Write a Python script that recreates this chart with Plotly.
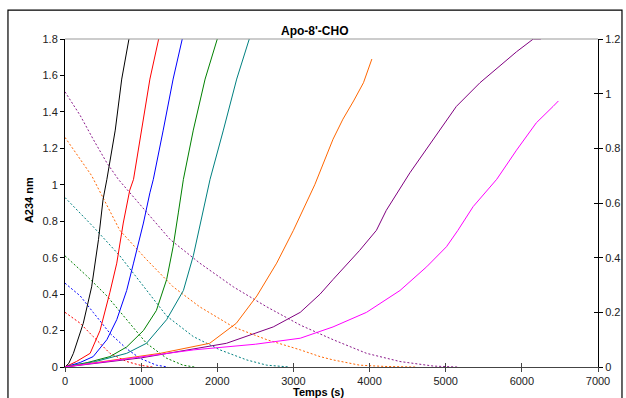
import plotly.graph_objects as go

# ---- data (time in s, absorbance) ----
black_t = [0, 50, 110, 240, 350, 440, 500, 550, 660, 745, 840]
black_v = [0, 0.02, 0.075, 0.24, 0.44, 0.70, 0.92, 1.03, 1.30, 1.58, 1.80]

red_t = [0, 150, 330, 460, 590, 680, 765, 850, 900, 1005, 1115, 1230]
red_v = [0, 0.03, 0.075, 0.20, 0.41, 0.57, 0.79, 0.97, 1.03, 1.30, 1.58, 1.80]

blue_t = [0, 200, 370, 550, 680, 810, 900, 1030, 1115, 1160, 1290, 1420, 1540]
blue_v = [0, 0.025, 0.057, 0.15, 0.26, 0.42, 0.57, 0.79, 0.956, 1.03, 1.30, 1.58, 1.80]

green_t = [0, 300, 590, 810, 1030, 1200, 1335, 1420, 1490, 1555, 1685, 1840, 2000]
green_v = [0, 0.025, 0.057, 0.11, 0.20, 0.31, 0.48, 0.66, 0.85, 1.03, 1.30, 1.58, 1.80]

teal_t = [0, 400, 810, 1070, 1335, 1555, 1685, 1815, 1905, 2080, 2255, 2420]
teal_v = [0, 0.03, 0.075, 0.13, 0.26, 0.42, 0.61, 0.85, 1.03, 1.30, 1.58, 1.80]

orange_t = [0, 600, 1250, 1900, 2250, 2520, 2780, 3000, 3280, 3520, 3650, 3790, 3920, 4030]
orange_v = [0, 0.035, 0.075, 0.13, 0.24, 0.39, 0.57, 0.75, 1.00, 1.25, 1.36, 1.46, 1.56, 1.69]

purple_t = [0, 1000, 2120, 2735, 3090, 3350, 3520, 3870, 4090, 4220, 4530, 4840, 5140, 5450, 5710, 5930, 6150, 6250]
purple_v = [0, 0.05, 0.13, 0.22, 0.30, 0.40, 0.48, 0.64, 0.75, 0.86, 1.066, 1.25, 1.43, 1.56, 1.65, 1.73, 1.80, 1.80]

magenta_t = [0, 1000, 1690, 2500, 3090, 3520, 3960, 4400, 4750, 5010, 5160, 5360, 5670, 5930, 6190, 6410, 6480]
magenta_v = [0, 0.055, 0.094, 0.125, 0.158, 0.22, 0.30, 0.42, 0.55, 0.66, 0.75, 0.88, 1.03, 1.19, 1.34, 1.43, 1.46]

red_d_t = [0, 200, 370, 590, 810, 985, 1150]
red_d_v = [0.30, 0.24, 0.167, 0.075, 0.03, 0.01, 0.0]

blue_d_t = [0, 200, 370, 590, 810, 985, 1200, 1350]
blue_d_v = [0.46, 0.39, 0.30, 0.185, 0.10, 0.048, 0.01, 0.0]

green_d_t = [0, 285, 550, 810, 1070, 1335, 1550, 1700]
green_d_v = [0.61, 0.50, 0.39, 0.26, 0.13, 0.048, 0.01, 0.0]

teal_d_t = [0, 370, 720, 1070, 1335, 1685, 2035, 2385, 2650, 2950]
teal_d_v = [0.93, 0.77, 0.61, 0.42, 0.28, 0.167, 0.094, 0.039, 0.01, 0.0]

orange_d_t = [0, 350, 720, 1070, 1420, 1770, 2210, 2650, 3090, 3350, 3520, 3870, 4200, 4600]
orange_d_v = [1.26, 1.05, 0.75, 0.59, 0.44, 0.33, 0.22, 0.15, 0.094, 0.057, 0.039, 0.01, 0.003, 0.0]

purple_d_t = [0, 200, 370, 550, 700, 1070, 1380, 1770, 2210, 2650, 3090, 3520, 3960, 4400, 4840, 5150]
purple_d_v = [1.51, 1.38, 1.25, 1.12, 1.03, 0.85, 0.70, 0.57, 0.44, 0.33, 0.23, 0.15, 0.075, 0.03, 0.005, 0.0]

solid = [
    (black_t, black_v, "#000000"),
    (red_t, red_v, "#FF0000"),
    (blue_t, blue_v, "#0000FF"),
    (green_t, green_v, "#008000"),
    (teal_t, teal_v, "#008080"),
    (orange_t, orange_v, "#FF6600"),
    (purple_t, purple_v, "#800080"),
    (magenta_t, magenta_v, "#FF00FF"),
]
dashed = [
    (red_d_t, red_d_v, "#FF0000"),
    (blue_d_t, blue_d_v, "#0000FF"),
    (green_d_t, green_d_v, "#008000"),
    (teal_d_t, teal_d_v, "#008080"),
    (orange_d_t, orange_d_v, "#FF6600"),
    (purple_d_t, purple_d_v, "#8B1A8B"),
]

fig = go.Figure()
for t, v, c in dashed:
    fig.add_trace(go.Scatter(x=t, y=v, mode="lines", line=dict(color=c, width=1, dash="2px,2px"),
                             showlegend=False, hoverinfo="skip"))
for t, v, c in solid:
    fig.add_trace(go.Scatter(x=t, y=v, mode="lines", line=dict(color=c, width=1),
                             showlegend=False, hoverinfo="skip"))
# empty traces to activate the helper axes (for crossing ticks / right axis)
fig.add_trace(go.Scatter(x=[], y=[], xaxis="x2", yaxis="y2", showlegend=False, hoverinfo="skip"))
fig.add_trace(go.Scatter(x=[], y=[], xaxis="x2", yaxis="y3", showlegend=False, hoverinfo="skip"))

tickfont = dict(family="Liberation Sans, Arial, sans-serif", size=11, color="#222222")

fig.update_layout(
    width=626, height=398,
    margin=dict(l=65, r=28, t=39, b=31),
    paper_bgcolor="white", plot_bgcolor="white",
    font=dict(family="Liberation Sans, Arial, sans-serif"),
    xaxis=dict(range=[0, 7000], dtick=1000, showgrid=False, zeroline=False,
               showline=True, linecolor="#444444", linewidth=1,
               ticks="outside", ticklen=4, tickcolor="#444444", tickfont=tickfont,
               fixedrange=True, automargin=False),
    xaxis2=dict(range=[0, 7000], dtick=1000, overlaying="x", anchor="y", side="bottom",
                showgrid=False, zeroline=False, showline=False, ticks="inside", ticklen=4,
                tickcolor="#444444", showticklabels=False),
    yaxis=dict(range=[0, 1.8], dtick=0.2, showgrid=False, zeroline=False,
               showline=True, linecolor="#000000", linewidth=1,
               ticks="outside", ticklen=4, tickcolor="#000000", tickfont=tickfont,
               fixedrange=True, automargin=False),
    yaxis2=dict(range=[0, 1.2], dtick=0.2, overlaying="y", side="right", anchor="x",
                showgrid=False, zeroline=False, showline=True, linecolor="#000000", linewidth=1,
                ticks="outside", ticklen=4, tickcolor="#000000", tickfont=tickfont,
                automargin=False),
    yaxis3=dict(range=[0, 1.2], dtick=0.2, overlaying="y", side="right", anchor="x",
                showgrid=False, zeroline=False, showline=False,
                ticks="inside", ticklen=4, tickcolor="#000000", showticklabels=False),
    shapes=[
        dict(type="line", xref="paper", yref="paper", x0=0, x1=1, y0=1, y1=1,
             line=dict(color="#999999", width=1)),
        dict(type="rect", xref="paper", yref="paper", x0=-0.107, x1=1.045, y0=-0.2, y1=1.088,
             line=dict(color="#000000", width=1.2), fillcolor="rgba(0,0,0,0)", layer="above"),
    ],
    annotations=[
        dict(text="<b>Apo-8'-CHO</b>", xref="paper", yref="paper", x=0.469, y=1.024,
             showarrow=False, font=dict(size=12, color="#000000"), xanchor="center", yanchor="middle"),
        dict(text="<b>A234 nm</b>", xref="paper", yref="paper", x=-0.0675, y=0.509,
             showarrow=False, textangle=-90, font=dict(size=11, color="#000000"),
             xanchor="center", yanchor="middle"),
        dict(text="<b>Temps (s)</b>", xref="paper", yref="paper", x=0.475, y=-0.076,
             showarrow=False, font=dict(size=11, color="#000000"), xanchor="center", yanchor="middle"),
    ],
)

fig.write_html("out.html", config={"displayModeBar": False, "staticPlot": True},
               post_script="document.body.style.margin='0';document.body.style.padding='0';")
